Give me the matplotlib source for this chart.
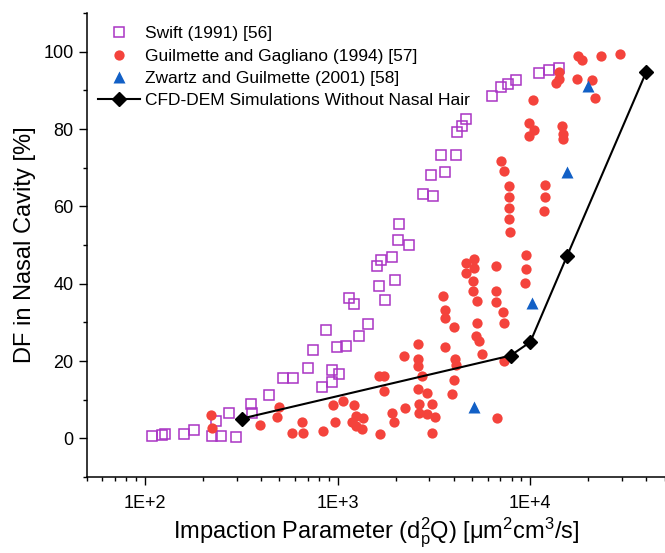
import matplotlib
matplotlib.use("Agg")
import matplotlib.pyplot as plt
from matplotlib.ticker import MultipleLocator, FixedLocator, LogLocator, NullFormatter

plt.rcParams["font.family"] = ["Liberation Sans", "DejaVu Sans"]
plt.rcParams["mathtext.fontset"] = "custom"
plt.rcParams["mathtext.rm"] = "Liberation Sans"
plt.rcParams["mathtext.it"] = "Liberation Sans:italic"

# ---- data ----
swift_x = [109, 123, 128, 159, 180, 224, 235, 249, 275, 296, 355, 361, 442, 519, 589,
           705, 749, 828, 868, 936, 936, 994, 1018, 1107, 1152, 1218, 1289, 1435, 1599,
           1643, 1683, 1759, 1912, 1997, 2069, 2095, 2352, 2781, 3072, 3145, 3436, 3605,
           4113, 4178, 4449, 4668, 6324, 7043, 7687, 8458, 11045, 12450, 14030]
swift_y = [0.6, 0.8, 1.2, 1.0, 2.1, 0.6, 4.4, 0.6, 6.5, 0.4, 8.9, 6.6, 11.3, 15.5, 15.5,
           18.3, 22.9, 13.4, 27.9, 14.5, 17.8, 23.6, 16.7, 23.8, 36.2, 34.8, 26.5, 29.5, 44.6,
           39.4, 46.0, 35.9, 47.0, 41.0, 51.2, 55.4, 50.1, 63.3, 68.0, 62.8, 73.3, 68.8,
           73.2, 79.2, 80.7, 82.6, 88.5, 90.9, 91.7, 92.8, 94.5, 95.2, 95.8]

guil_x = [220, 224, 396, 483, 498, 582, 656, 662, 838, 951, 967, 1072, 1193, 1218, 1243,
          1243, 1345, 1361, 1643, 1670, 1744, 1744, 1926, 1966, 2216, 2234, 2619, 2619,
          2619, 2628, 2651, 2651, 2757, 2928, 2928, 3108, 3108, 3210, 3532, 3618, 3618,
          3618, 3949, 4015, 4045, 4064, 4112, 4634, 4634, 5016, 5058, 5118, 5118, 5223,
          5285, 5285, 5434, 5612, 6634, 6634, 6634, 6714, 7043, 7180, 7266, 7266, 7327,
          7717, 7717, 7780, 7780, 7845, 9420, 9500, 9500, 9800, 9800, 10280, 10490, 11826,
          11926, 11970, 13600, 14030, 14030, 14610, 14720, 14840, 17400, 17610, 18560,
          20810, 21580, 23290, 29240]
guil_y = [6.0, 2.7, 3.4, 5.5, 8.2, 1.5, 4.1, 1.3, 1.8, 8.5, 4.2, 9.6, 4.2, 8.5, 3.2,
          5.8, 2.4, 5.3, 16.1, 1.0, 16.1, 12.2, 6.6, 4.2, 21.3, 7.8, 24.5, 20.6,
          18.7, 12.7, 8.8, 6.5, 16.1, 11.6, 6.4, 8.8, 1.5, 5.5, 36.8, 33.2, 31.2,
          23.7, 11.4, 15.2, 28.9, 20.6, 18.9, 45.4, 42.8, 40.6, 38.2, 46.3, 44.1, 26.4,
          35.5, 29.9, 25.1, 21.7, 44.5, 38.2, 35.3, 5.2, 71.8, 32.6, 69.1, 29.9, 20.0,
          65.2, 62.4, 59.6, 56.6, 53.3, 40.2, 47.5, 43.7, 81.6, 78.3, 87.6, 79.8, 58.9,
          62.5, 65.5, 91.9, 94.8, 92.9, 80.7, 78.6, 77.4, 92.9, 98.8, 97.8,
          92.6, 87.9, 99.0, 99.4]

zw_x = [5100, 10200, 15500, 20000]
zw_y = [8, 35, 69, 91]

cfd_x = [318, 7900, 10000, 15500, 40000]
cfd_y = [5.1, 21.4, 24.9, 47.1, 94.8]

labels = ["Swift (1991) [56]", "Guilmette and Gagliano (1994) [57]",
          "Zwartz and Guilmette (2001) [58]", "CFD-DEM Simulations Without Nasal Hair"]

# ---- figure ----
fig = plt.figure(figsize=(6.65, 5.53), dpi=100)
ax = fig.add_axes([0.1304, 0.1374, 0.8696, 0.8391])

ax.plot(swift_x, swift_y, "s", ls="none", ms=7.4, mfc="none", mec="#A934C4", mew=1.1,
        label=labels[0])
ax.plot(guil_x, guil_y, "o", ls="none", ms=7.4, mfc="#F4433C", mec="none", label=labels[1])
ax.plot(zw_x, zw_y, "^", ls="none", ms=9, mfc="#1260C6", mec="none", label=labels[2])
ax.plot(cfd_x, cfd_y, "-D", color="black", lw=1.5, ms=6.8, label=labels[3])

ax.set_xscale("log")
ax.set_xlim(50, 50000)
ax.set_ylim(-10, 110)

ax.xaxis.set_major_locator(FixedLocator([100, 1000, 10000]))
ax.set_xticklabels(["1E+2", "1E+3", "1E+4"])
ax.xaxis.set_minor_locator(LogLocator(base=10, subs=range(2, 10)))
ax.xaxis.set_minor_formatter(NullFormatter())
ax.yaxis.set_major_locator(FixedLocator([0, 20, 40, 60, 80, 100]))
ax.yaxis.set_minor_locator(MultipleLocator(10))

for side in ["top", "right"]:
    ax.spines[side].set_visible(False)
for side in ["left", "bottom"]:
    ax.spines[side].set_linewidth(1.1)

ax.tick_params(which="major", length=6, width=1.0, labelsize=13, direction="out")
ax.tick_params(which="minor", length=3, width=1.0, direction="out")
ax.tick_params(axis="x", which="major", pad=7)

ax.set_xlabel("Impaction Parameter (d$\\mathregular{_p^2}$Q) [μm$\\mathregular{^2}$cm$\\mathregular{^3}$/s]",
              fontsize=17, labelpad=3)
ax.set_ylabel("DF in Nasal Cavity [%]", fontsize=17, labelpad=5)

ax.legend(loc="upper left", bbox_to_anchor=(0.02, 0.972), frameon=False, fontsize=12.5,
          borderpad=0, borderaxespad=0, handlelength=2.4, handletextpad=0.3,
          labelspacing=0.42)

fig.savefig("out.png", dpi=100)
